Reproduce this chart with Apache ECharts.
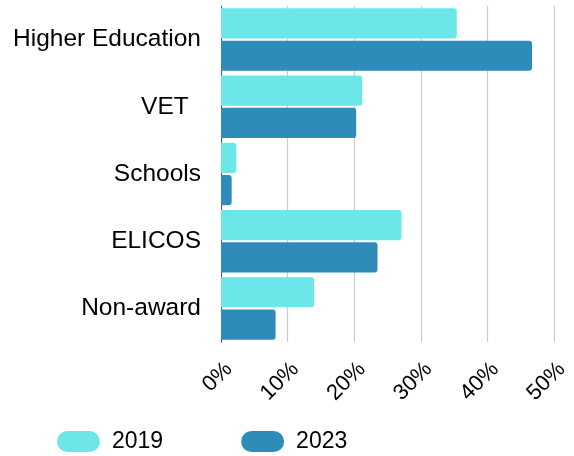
<!DOCTYPE html>
<html>
<head>
<meta charset="utf-8">
<script src="https://cdn.jsdelivr.net/npm/echarts@6/dist/echarts.min.js"></script>
<style>
  html, body { margin: 0; padding: 0; background: #fff; }
  #chart { width: 574px; height: 456px; }
</style>
</head>
<body>
<div id="chart"></div>
<script>
// categories top to bottom ("VET" carries a trailing space as in the original)
const categories = ["Higher Education", "VET\u2002", "Schools", "ELICOS", "Non-award"];
const values2019 = [35.4, 21.2, 2.3, 27.1, 14.0];
const values2023 = [46.7, 20.3, 1.6, 23.5, 8.2];
const xTicks = [0, 10, 20, 30, 40, 50];

const pill = "path://M11,0 L34,0 A11,11 0 0 1 34,22 L11,22 A11,11 0 0 1 11,0 Z";
const font = "'Liberation Sans', Arial, Helvetica, sans-serif";

let chart = echarts.init(document.getElementById("chart"));
chart.setOption({
  animation: false,
  textStyle: { fontFamily: font },
  grid: { left: 221, right: 20, top: 6, bottom: 114 },
  legend: {
    left: 52,
    bottom: -2,
    itemWidth: 45,
    itemHeight: 21,
    itemGap: 78,
    textStyle: { fontSize: 23, color: "#000", fontFamily: font, padding: [0, 0, 0, 6] },
    data: [
      { name: "2019", icon: pill },
      { name: "2023", icon: pill },
    ],
  },
  xAxis: {
    type: "value",
    min: xTicks[0],
    max: xTicks[xTicks.length - 1],
    interval: 10,
    axisLine: { show: false },
    axisTick: { show: false },
    splitLine: { lineStyle: { color: "#cccccc", width: 1.2 } },
    axisLabel: {
      rotate: 45,
      align: "right",
      verticalAlign: "top",
      margin: 16,
      fontSize: 22,
      color: "#000",
      fontFamily: font,
      formatter: (v) => v + "%",
    },
  },
  yAxis: {
    type: "category",
    inverse: true,
    data: categories,
    axisLine: { show: true, lineStyle: { color: "#555", width: 1 } },
    axisTick: { show: false },
    axisLabel: { margin: 20, fontSize: 24.5, color: "#000", fontFamily: font },
  },
  series: [
    {
      name: "2019",
      type: "bar",
      data: values2019,
      barCategoryGap: "7%",
      barGap: "7%",
      itemStyle: { color: "#6ce6e8", borderRadius: [0, 3, 3, 0] },
    },
    {
      name: "2023",
      type: "bar",
      data: values2023,
      barCategoryGap: "7%",
      barGap: "7%",
      itemStyle: { color: "#2e8bba", borderRadius: [0, 3, 3, 0] },
    },
  ],
});
</script>
</body>
</html>
